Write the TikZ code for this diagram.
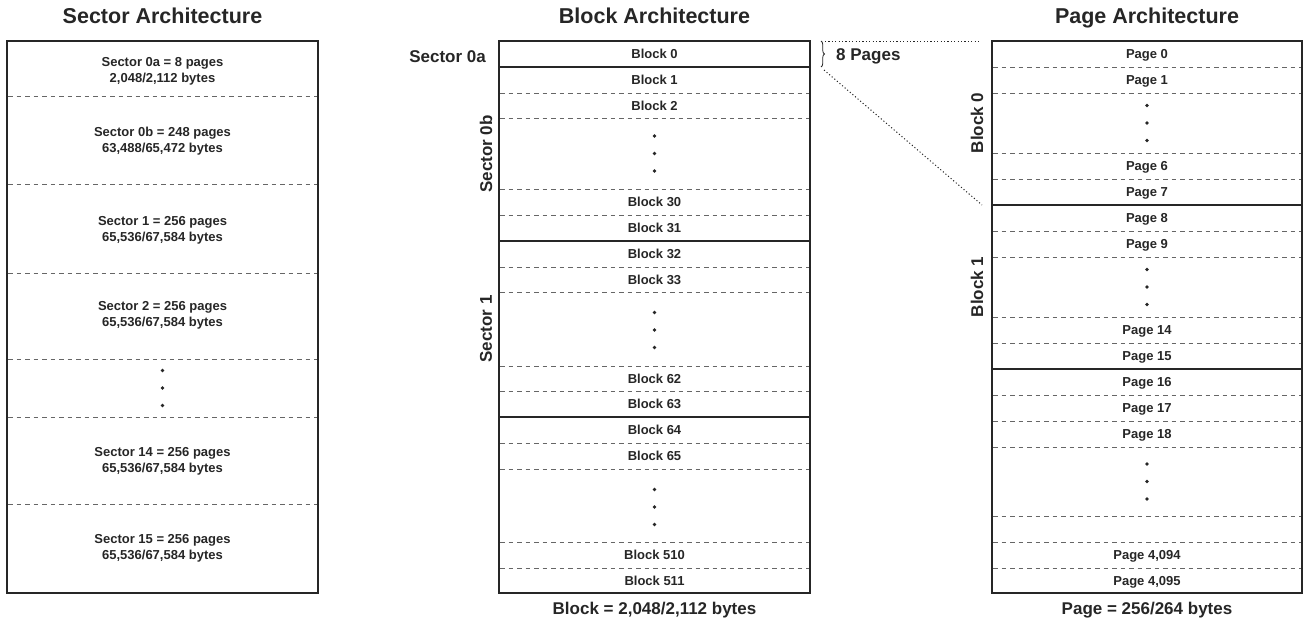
\documentclass[tikz,border=0pt]{standalone}
\usepackage{fontspec}
\setmainfont{Liberation Sans}
\usepackage{tikz}
\usetikzlibrary{positioning}
\usetikzlibrary{decorations.pathreplacing}
\definecolor{mdark}{rgb}{0.15, 0.15, 0.15}
\definecolor{mgray}{rgb}{0.4, 0.4, 0.4}
\tikzset{archbox/.style = {draw=mdark, line width=2pt, outer sep=0pt, inner sep=0pt, anchor=north west},
         dashsep/.style = {draw=mgray, line width=0.9pt, dash pattern=on 4.5pt off 4pt},
         solidsep/.style = {draw=mdark, line width=1.2pt},
         cell/.style = {font=\fontsize{13}{16}\selectfont\bfseries, text=mdark, text height=9.4pt, text depth=0pt, inner sep=0pt},
         seccell/.style = {font=\fontsize{13}{16}\selectfont\bfseries, text=mdark, align=center, inner sep=0pt},
         side/.style = {font=\fontsize{17}{20}\selectfont\bfseries, text=mdark, inner sep=0pt},
         ttl/.style = {font=\fontsize{21.5}{24}\selectfont\bfseries, text=mdark, text depth=0pt, inner sep=0pt},
         guide/.style = {draw=mdark, line width=1pt, dash pattern=on 1.1pt off 2.3pt}}
\newcommand{\dotcol}[2]{\foreach \d in {-17.5, 0, 17.5} \fill [mdark] (#1, {#2+\d}) circle (1.9pt);}

\begin{document}
\begin{tikzpicture}[x=1pt, y=-1pt]
    \useasboundingbox (0, 0) rectangle (1304, 621);

    % sector column
    \foreach \y in {96, 184, 273, 359, 417, 504} \draw [dashsep] (8, \y) -- (317, \y);
    \node [archbox, minimum width=311pt, minimum height=552pt] (sectors) at (7, 41) {};
    \node [ttl, above=17pt of sectors] (sectitle) {Sector Architecture};
    \node [seccell] (sec0a) at (162.5, 71) {Sector 0a = 8 pages\\2,048/2,112 bytes};
    \node [seccell] (sec0b) at (162.5, 141) {Sector 0b = 248 pages\\63,488/65,472 bytes};
    \node [seccell] (sec1) at (162.5, 230) {Sector 1 = 256 pages\\65,536/67,584 bytes};
    \node [seccell] (sec2) at (162.5, 315) {Sector 2 = 256 pages\\65,536/67,584 bytes};
    \dotcol{162.5}{388}
    \node [seccell] (sec14) at (162.5, 461) {Sector 14 = 256 pages\\65,536/67,584 bytes};
    \node [seccell] (sec15) at (162.5, 548.5) {Sector 15 = 256 pages\\65,536/67,584 bytes};

    % block column
    \foreach \y in {93, 118, 189, 215, 267, 292, 366, 391, 443, 469, 542, 568} \draw [dashsep] (500, \y) -- (809, \y);
    \foreach \y in {67, 241, 417} \draw [solidsep] (500, \y) -- (809, \y);
    \node [archbox, minimum width=311pt, minimum height=552pt] (blocks) at (499, 41) {};
    \node [ttl, above=17pt of blocks] (blktitle) {Block Architecture};
    \node [cell] (blk0) at (654.5, 54) {Block 0};
    \node [cell] (blk1) at (654.5, 80) {Block 1};
    \node [cell] (blk2) at (654.5, 105.5) {Block 2};
    \dotcol{654.5}{153.5}
    \node [cell] (blk30) at (654.5, 202) {Block 30};
    \node [cell] (blk31) at (654.5, 228) {Block 31};
    \node [cell] (blk32) at (654.5, 254) {Block 32};
    \node [cell] (blk33) at (654.5, 279.5) {Block 33};
    \dotcol{654.5}{330}
    \node [cell] (blk62) at (654.5, 378.5) {Block 62};
    \node [cell] (blk63) at (654.5, 404) {Block 63};
    \node [cell] (blk64) at (654.5, 430) {Block 64};
    \node [cell] (blk65) at (654.5, 456) {Block 65};
    \dotcol{654.5}{507}
    \node [cell] (blk510) at (654.5, 555) {Block 510};
    \node [cell] (blk511) at (654.5, 580.5) {Block 511};
    \node [side, anchor=base east] (s0a) at (486, 62.5) {Sector 0a};
    \node [side, rotate=90] (s0b) at (486, 154) {Sector 0b};
    \node [side, rotate=90] (s1) at (486, 329) {Sector 1};
    \node [side, below=8.5pt of blocks] (blksize) {Block = 2,048/2,112 bytes};

    % page column
    \foreach \y in {67, 93, 153, 179, 231, 257, 317, 343, 395, 421, 447, 516, 542, 568} \draw [dashsep] (993, \y) -- (1301, \y);
    \foreach \y in {205, 369} \draw [solidsep] (993, \y) -- (1301, \y);
    \node [archbox, minimum width=310pt, minimum height=552pt] (pages) at (992, 41) {};
    \node [ttl, above=17pt of pages] (pgtitle) {Page Architecture};
    \node [cell] (pg0) at (1147, 54) {Page 0};
    \node [cell] (pg1) at (1147, 80) {Page 1};
    \dotcol{1147}{123}
    \node [cell] (pg6) at (1147, 166) {Page 6};
    \node [cell] (pg7) at (1147, 192) {Page 7};
    \node [cell] (pg8) at (1147, 218) {Page 8};
    \node [cell] (pg9) at (1147, 244) {Page 9};
    \dotcol{1147}{287}
    \node [cell] (pg14) at (1147, 330) {Page 14};
    \node [cell] (pg15) at (1147, 356) {Page 15};
    \node [cell] (pg16) at (1147, 382) {Page 16};
    \node [cell] (pg17) at (1147, 408) {Page 17};
    \node [cell] (pg18) at (1147, 434) {Page 18};
    \dotcol{1147}{481.5}
    \node [cell] (pg4094) at (1147, 555) {Page 4,094};
    \node [cell] (pg4095) at (1147, 580.5) {Page 4,095};
    \node [side, rotate=90] (b0) at (977, 123) {Block 0};
    \node [side, rotate=90] (b1) at (977, 287) {Block 1};
    \node [side, below=8.5pt of pages] (pgsize) {Page = 256/264 bytes};

    % zoom from block 0 to its pages
    \coordinate (brtop) at (821, 41);
    \coordinate (brbot) at (821, 67);
    \coordinate (gtop) at (980, 41);
    \coordinate (glow) at (982, 205);
    \draw [decorate, decoration={brace, amplitude=3.5pt}, draw=mdark, line width=0.8pt] (brtop) -- (brbot);
    \node [side, anchor=base west] (eight) at (836, 60) {8 Pages};
    \draw [guide] ([xshift=4pt]brtop) -- (gtop);
    \draw [guide] ([shift={(3pt, -3pt)}]brbot) -- (glow);
\end{tikzpicture}
\end{document}
